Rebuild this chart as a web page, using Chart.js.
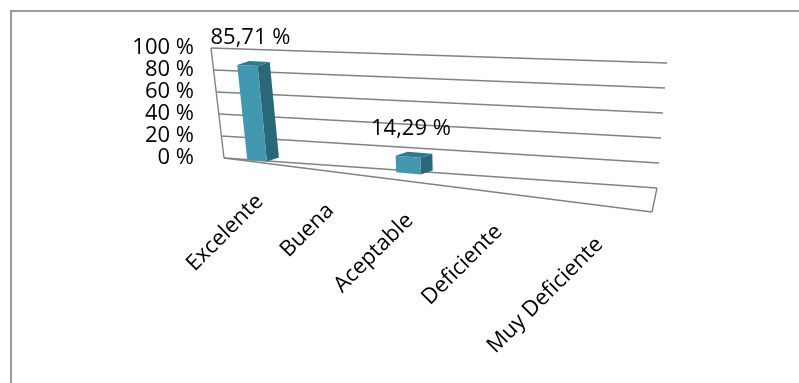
<!DOCTYPE html>
<html>
<head>
<meta charset="utf-8">
<script src="https://cdn.jsdelivr.net/npm/chart.js@4.4.1/dist/chart.umd.min.js"></script>
<style>
  html, body { margin: 0; padding: 0; background: #fff; }
  #wrap { position: relative; width: 799px; height: 383px; overflow: hidden; }
  #frame { position: absolute; left: 10px; top: 10px; width: 800px; height: 380px;
           border-top: 2px solid #9a9a9a; border-left: 2px solid #9a9a9a; }
  canvas { position: absolute; left: 0; top: 0; }
</style>
</head>
<body>
<div id="wrap">
  <div id="frame"></div>
  <canvas id="chart" width="799" height="383"></canvas>
</div>
<script>
const categorias = ["Excelente", "Buena", "Aceptable", "Deficiente", "Muy Deficiente"];
const porcentajes = [85.71, 0, 14.29, 0, 0];
const marcasY = [0, 20, 40, 60, 80, 100];

const fuente = "'Open Sans', Lato, sans-serif";
const tam = 22;

// 3D look of the plot: back wall corners are offsets from the flat chart area,
// the floor opens towards the viewer on the right side
const vista = {
  fuga: 0.745,
  arribaIzq: [-13, 0],
  arribaDer: [10, 15],
  abajoDer: [0, 30],
  suelo: [-5, 24],
  lado: [12, -4],
  prof: 0.25
};

function punto(ca, s, h, d) {
  const g = vista.fuga * s / ((1 - s) + vista.fuga * s);
  const bx = ca.left + (ca.right + vista.abajoDer[0] - ca.left) * g;
  const by = ca.bottom + vista.abajoDer[1] * g;
  const tx0 = ca.left + vista.arribaIzq[0], tx1 = ca.right + vista.arribaDer[0];
  const tx = tx0 + (tx1 - tx0) * g;
  const ty = ca.top + vista.arribaIzq[1] + (vista.arribaDer[1] - vista.arribaIzq[1]) * g;
  return [bx + (tx - bx) * h + d * vista.suelo[0] * g,
          by + (ty - by) * h + d * vista.suelo[1] * g];
}

function linea(ctx, a, b) {
  ctx.beginPath();
  ctx.moveTo(a[0], a[1]);
  ctx.lineTo(b[0], b[1]);
  ctx.stroke();
}

function cara(ctx, pts, color) {
  ctx.beginPath();
  ctx.moveTo(pts[0][0], pts[0][1]);
  for (let i = 1; i < pts.length; i++) ctx.lineTo(pts[i][0], pts[i][1]);
  ctx.closePath();
  ctx.fillStyle = color;
  ctx.fill();
}

const mas = (p, o) => [p[0] + o[0], p[1] + o[1]];

const perspectiva = {
  id: 'perspectiva',
  beforeDatasetsDraw(chart) {
    const { ctx, chartArea: ca, scales: { y } } = chart;
    const alto = v => (ca.bottom - y.getPixelForValue(v)) / (ca.bottom - ca.top);
    ctx.save();
    ctx.strokeStyle = '#828282';
    ctx.lineWidth = 1.4;
    y.ticks.forEach(t => {
      const h = alto(t.value);
      linea(ctx, punto(ca, 0, h, 0), punto(ca, 1, h, 0));
    });
    linea(ctx, punto(ca, 0, 0, 0), punto(ca, 0, 1, 0));
    linea(ctx, punto(ca, 0, 0, 1), punto(ca, 1, 0, 1));
    linea(ctx, punto(ca, 1, 0, 0), punto(ca, 1, 0, 1));
    ctx.restore();
  },
  afterDatasetsDraw(chart) {
    const { ctx, chartArea: ca, scales: { x } } = chart;
    const ancho = ca.right - ca.left;
    const meta = chart.getDatasetMeta(0);
    ctx.save();
    meta.data.forEach((el, i) => {
      const v = porcentajes[i];
      if (!v) return;
      const s0 = (el.x - el.width / 2 - ca.left) / ancho;
      const s1 = (el.x + el.width / 2 - ca.left) / ancho;
      const h = (el.base - el.y) / (ca.bottom - ca.top);
      const d = vista.prof;
      const a = punto(ca, s0, 0, d), b = punto(ca, s1, 0, d);
      const c = punto(ca, s1, h, d), e = punto(ca, s0, h, d);
      cara(ctx, [b, c, mas(c, vista.lado), mas(b, vista.lado)], '#2a6778');
      cara(ctx, [e, c, mas(c, vista.lado), mas(e, vista.lado)], '#32788c');
      cara(ctx, [a, b, c, e], '#4298b1');
      ctx.fillStyle = '#000';
      ctx.font = tam + 'px ' + fuente;
      ctx.textAlign = 'center';
      ctx.textBaseline = 'middle';
      const texto = v.toFixed(2).replace('.', ',') + ' %';
      ctx.fillText(texto, (e[0] + c[0]) / 2 + 3, Math.min(e[1], c[1]) - 27);
    });

    // category names under the floor edge
    ctx.font = tam + 'px ' + fuente;
    ctx.fillStyle = '#000';
    ctx.textAlign = 'right';
    ctx.textBaseline = 'middle';
    categorias.forEach((nombre, i) => {
      const s = (x.getPixelForValue(i) - ca.left) / ancho;
      const p = punto(ca, s, 0, 1);
      ctx.save();
      ctx.translate(p[0] + 3, p[1] + 36);
      ctx.rotate(-Math.PI / 4);
      ctx.fillText(nombre, 0, 0);
      ctx.restore();
    });
    ctx.restore();
  }
};

new Chart(document.getElementById('chart'), {
  type: 'bar',
  data: {
    labels: categorias,
    datasets: [{
      data: porcentajes,
      backgroundColor: 'rgba(0,0,0,0)',
      borderWidth: 0,
      barPercentage: 0.58,
      categoryPercentage: 0.5
    }]
  },
  options: {
    responsive: false,
    animation: false,
    layout: { padding: { left: 20, top: 48, right: 142, bottom: 225 } },
    plugins: { legend: { display: false }, tooltip: { enabled: false } },
    scales: {
      x: { display: false },
      y: {
        min: 0,
        max: 100,
        afterBuildTicks: scale => { scale.ticks = marcasY.map(v => ({ value: v })); },
        afterFit: scale => { scale.width = 204; },
        grid: { display: false, drawTicks: false },
        border: { display: false },
        ticks: {
          autoSkip: false,
          padding: 30,
          color: '#000',
          font: { family: fuente, size: tam },
          callback: v => v + ' %'
        }
      }
    }
  },
  plugins: [perspectiva]
});
</script>
</body>
</html>
